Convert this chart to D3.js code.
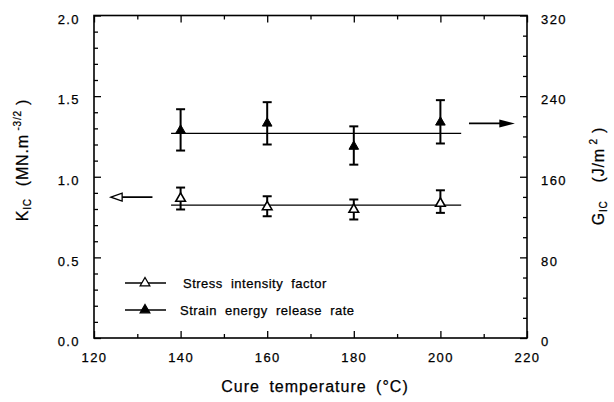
<!DOCTYPE html>
<html>
<head>
<meta charset="utf-8">
<script src="https://cdn.jsdelivr.net/npm/d3@7"></script>
<style>
  body { margin: 0; background: #fff; }
  text { font-family: "Liberation Sans", Arial, Helvetica, sans-serif; fill: #000; stroke: #000; stroke-width: 0.25px; }
</style>
</head>
<body>
<svg id="chart"></svg>
<script>
const W = 614, H = 402;
const margin = { top: 15.5, right: 87, bottom: 64, left: 94 },
    width = W - margin.left - margin.right,
    height = H - margin.top - margin.bottom;

// cure temperatures (°C)
const temps = [140, 160, 180, 200];

// stress intensity factor K_IC (MN.m^-3/2), with error bar ends
const kic = [0.865, 0.813, 0.797, 0.834];
const kicHi = [0.933, 0.879, 0.859, 0.916];
const kicLo = [0.797, 0.755, 0.735, 0.776];
const kicMean = 0.824;

// strain energy release rate G_IC (J/m^2), with error bar ends
const gic = [206, 213, 190, 214];
const gicHi = [227, 234, 210, 236];
const gicLo = [186, 192, 172, 193];
const gicMean = 203;

// extent of the mean lines (°C)
const meanSpan = [137.8, 204.8];

const xTicks = [120, 140, 160, 180, 200, 220];
const xMinor = [130, 150, 170, 190, 210];
const kTicks = [0, 0.5, 1.0, 1.5, 2.0];
const kMinor = [0.1, 0.2, 0.3, 0.4, 0.6, 0.7, 0.8, 0.9, 1.1, 1.2, 1.3, 1.4, 1.6, 1.7, 1.8, 1.9];
const gTicks = [0, 80, 160, 240, 320];
const gMinor = [20, 40, 60, 100, 120, 140, 180, 200, 220, 260, 280, 300];

const svg0 = d3.select("#chart").attr("width", W).attr("height", H);
svg0.append("rect").attr("width", W).attr("height", H).attr("fill", "#fff");
const svg = svg0.append("g").attr("transform", `translate(${margin.left}, ${margin.top})`);

const x = d3.scaleLinear().domain([120, 220]).range([0, width]);
const yK = d3.scaleLinear().domain([0, 2]).range([height, 0]);
const yG = d3.scaleLinear().domain([0, 320]).range([height, 0]);

function styleAxis(g) {
    g.select(".domain").remove();
    g.selectAll(".tick line").attr("stroke", "#000").attr("stroke-width", 1.3);
    g.selectAll("text")
        .style("font-size", "13px")
        .style("letter-spacing", "1.4px");
}

// bottom axis
svg.append("g")
    .attr("transform", `translate(0, ${height})`)
    .call(d3.axisBottom(x).tickValues(xTicks).tickFormat(d3.format("d")).tickSize(-7).tickPadding(15))
    .call(styleAxis);
svg.append("g")
    .attr("transform", `translate(0, ${height})`)
    .call(d3.axisBottom(x).tickValues(xMinor).tickFormat("").tickSize(-4))
    .call(styleAxis);
// top axis
svg.append("g")
    .call(d3.axisTop(x).tickValues(xTicks).tickFormat("").tickSize(-7))
    .call(styleAxis);
svg.append("g")
    .call(d3.axisTop(x).tickValues(xMinor).tickFormat("").tickSize(-4))
    .call(styleAxis);
// left axis
svg.append("g")
    .call(d3.axisLeft(yK).tickValues(kTicks).tickFormat(d3.format(".1f")).tickSize(-7).tickPadding(14))
    .call(styleAxis)
    .selectAll("text").attr("dy", "0.6em");
svg.append("g")
    .call(d3.axisLeft(yK).tickValues(kMinor).tickFormat("").tickSize(-4))
    .call(styleAxis);
// right axis
svg.append("g")
    .attr("transform", `translate(${width}, 0)`)
    .call(d3.axisRight(yG).tickValues(gTicks).tickFormat(d3.format("d")).tickSize(-7).tickPadding(14))
    .call(styleAxis)
    .selectAll("text").attr("dy", "0.6em");
svg.append("g")
    .attr("transform", `translate(${width}, 0)`)
    .call(d3.axisRight(yG).tickValues(gMinor).tickFormat("").tickSize(-4))
    .call(styleAxis);

// frame
svg.append("rect")
    .attr("width", width).attr("height", height)
    .attr("fill", "none").attr("stroke", "#000").attr("stroke-width", 1.6);

// mean lines
svg.append("line")
    .attr("x1", x(meanSpan[0])).attr("x2", x(meanSpan[1]))
    .attr("y1", yG(gicMean)).attr("y2", yG(gicMean))
    .attr("stroke", "#000").attr("stroke-width", 1.3);
svg.append("line")
    .attr("x1", x(meanSpan[0])).attr("x2", x(meanSpan[1]))
    .attr("y1", yK(kicMean)).attr("y2", yK(kicMean))
    .attr("stroke", "#000").attr("stroke-width", 1.3);

const tri = d3.symbol().type(d3.symbolTriangle).size(40);

function errorBars(vals, lo, hi, y) {
    const g = svg.append("g").attr("stroke", "#000").attr("stroke-width", 2);
    temps.forEach((t, i) => {
        const cx = x(t);
        g.append("line").attr("x1", cx).attr("x2", cx).attr("y1", y(lo[i])).attr("y2", y(hi[i]));
        g.append("line").attr("x1", cx - 4.5).attr("x2", cx + 4.5).attr("y1", y(lo[i])).attr("y2", y(lo[i]));
        g.append("line").attr("x1", cx - 4.5).attr("x2", cx + 4.5).attr("y1", y(hi[i])).attr("y2", y(hi[i]));
    });
}
errorBars(gic, gicLo, gicHi, yG);
errorBars(kic, kicLo, kicHi, yK);

svg.selectAll(".gpt").data(temps).join("path")
    .attr("d", tri)
    .attr("transform", (t, i) => `translate(${x(t)}, ${yG(gic[i])})`)
    .attr("fill", "#000").attr("stroke", "#000").attr("stroke-width", 1);
svg.selectAll(".kpt").data(temps).join("path")
    .attr("d", tri)
    .attr("transform", (t, i) => `translate(${x(t)}, ${yK(kic[i])})`)
    .attr("fill", "#fff").attr("stroke", "#000").attr("stroke-width", 1.6);

// arrows pointing to the axes
const ka = yK(kicMean) - 8;
svg.append("line").attr("x1", x(133.5)).attr("x2", x(126)).attr("y1", ka).attr("y2", ka)
    .attr("stroke", "#000").attr("stroke-width", 1.6);
svg.append("path")
    .attr("d", `M${x(123.9)},${ka} L${x(126.5)},${ka - 4} L${x(126.5)},${ka + 4} Z`)
    .attr("fill", "#fff").attr("stroke", "#000").attr("stroke-width", 1.3);
const ga = yG(gicMean) - 10;
svg.append("line").attr("x1", x(206.6)).attr("x2", x(214)).attr("y1", ga).attr("y2", ga)
    .attr("stroke", "#000").attr("stroke-width", 1.6);
svg.append("path")
    .attr("d", `M${x(217.2)},${ga} L${x(213.6)},${ga - 4} L${x(213.6)},${ga + 4} Z`)
    .attr("fill", "#000");

// legend
const legend = [
    { label: "Stress intensity factor", fill: "#fff", y: 267.5, tx: 89 },
    { label: "Strain energy release rate", fill: "#000", y: 294.5, tx: 86 }
];
legend.forEach(d => {
    svg.append("line").attr("x1", 31).attr("x2", 72).attr("y1", d.y).attr("y2", d.y)
        .attr("stroke", "#000").attr("stroke-width", 1.3);
    svg.append("path").attr("d", tri)
        .attr("transform", `translate(51, ${d.y})`)
        .attr("fill", d.fill).attr("stroke", "#000").attr("stroke-width", 1.3);
    svg.append("text").attr("x", d.tx).attr("y", d.y + 4.5)
        .style("font-size", "13px").style("letter-spacing", "0.5px").style("word-spacing", "4px")
        .text(d.label);
});

// axis titles
svg0.append("text")
    .attr("x", 315).attr("y", 392)
    .attr("text-anchor", "middle")
    .style("font-size", "16px").style("letter-spacing", "1px").style("word-spacing", "4px")
    .text("Cure temperature (°C)");

const kLab = svg0.append("text")
    .attr("transform", "translate(28, 160) rotate(-90)")
    .attr("text-anchor", "middle")
    .style("font-size", "16px").style("letter-spacing", "0.8px");
kLab.append("tspan").text("K");
kLab.append("tspan").attr("dy", 3).style("font-size", "10px").text("IC");
kLab.append("tspan").attr("dy", -3).attr("dx", 12).text("(MN.m");
kLab.append("tspan").attr("dy", -7).style("font-size", "10px").text(" -3/2");
kLab.append("tspan").attr("dy", 7).text("  )");

const gLab = svg0.append("text")
    .attr("transform", "translate(604, 176) rotate(-90)")
    .attr("text-anchor", "middle")
    .style("font-size", "16px").style("letter-spacing", "0.8px");
gLab.append("tspan").text("G");
gLab.append("tspan").attr("dy", 3).style("font-size", "10px").text("IC");
gLab.append("tspan").attr("dy", -3).attr("dx", 18).text("(J/m");
gLab.append("tspan").attr("dy", -7).style("font-size", "10px").text(" 2");
gLab.append("tspan").attr("dy", 7).text("  )");
</script>
</body>
</html>
